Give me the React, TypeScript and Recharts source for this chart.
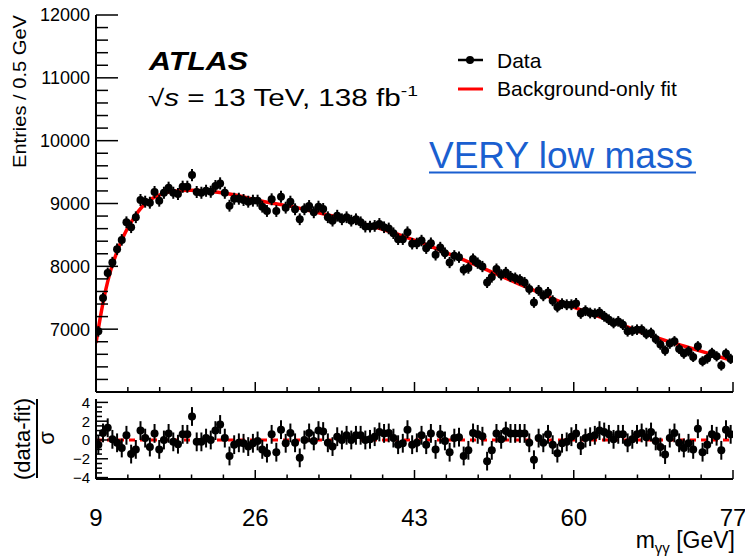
import React from 'react';
import { ComposedChart, Scatter, Line, XAxis, YAxis, ErrorBar, ReferenceLine } from 'recharts';

// binning of the diphoton mass spectrum
const BIN_LOW = 9;
const BIN_WIDTH = 0.5;

// entries per 0.5 GeV bin
const ENTRIES = [
  6965, 7495, 7892, 8061, 8273, 8421, 8702, 8622, 8781, 9056,
  9029, 9013, 9183, 9045, 9171, 9251, 9171, 9151, 9267, 9267,
  9452, 9183, 9171, 9203, 9187, 9278, 9320, 9171, 8965, 9076,
  9076, 9056, 9029, 9045, 9045, 8950, 8881, 9067, 8881, 9108,
  8934, 9029, 8908, 8749, 8908, 8960, 8860, 8950, 8913, 8781,
  8727, 8806, 8749, 8781, 8727, 8749, 8701, 8632, 8632, 8643,
  8675, 8622, 8603, 8527, 8432, 8432, 8543, 8360, 8365, 8410,
  8289, 8368, 8183, 8299, 8210, 8061, 8167, 8146, 7945, 7972,
  8115, 8051, 7997, 7743, 7829, 7956, 7865, 7902, 7838, 7813,
  7786, 7743, 7638, 7426, 7616, 7532, 7584, 7453, 7353, 7405,
  7389, 7389, 7410, 7250, 7294, 7257, 7246, 7267, 7204, 7151,
  7098, 7124, 7071, 6965, 6976, 6992, 6992, 6924, 6940, 6845,
  6754, 6659, 6770, 6807, 6686, 6611, 6648, 6559, 6727, 6489,
  6532, 6622, 6568, 6421, 6611, 6527,
];

// (data-fit)/sigma per bin
const PULLS = [
  -0.5, 0.75, 1.3, 0.07, -0.3, -0.85, 0.5, -1.5, -1.0, 1.0,
  0.2, -0.75, 0.7, -1.0, 0, 0.7, -0.2, -0.45, 0.6, 0.6,
  2.5, -0.2, -0.2, 0.2, 0, 1.0, 1.65, 0.2, -1.7, -0.5,
  -0.3, -0.35, -0.7, -0.35, -0.1, -1.0, -1.4, 0.6, -1.3, 1.1,
  -0.35, 0.75, -0.3, -1.9, 0, 0.75, -0.1, 1.0, 0.9, -0.3,
  -0.7, 0.35, 0, 0.5, 0, 0.5, 0.5, 0, 0.07, 0.35,
  0.85, 0.7, 0.75, 0.2, -0.5, -0.35, 1.1, -0.5, -0.3, 0.5,
  -0.5, 0.7, -1.0, 0.6, -0.1, -1.3, 0.2, 0.3, -1.7, -1.1,
  0.75, 0.6, 0.4, -2.25, -1.1, 0.7, 0.07, 0.95, 0.7, 0.7,
  0.7, 0.7, -0.3, -2.1, 0.2, -0.3, 0.6, -0.5, -1.4, -0.35,
  -0.2, 0.35, 0.7, -0.6, 0.2, 0.35, 0.5, 1.0, 0.85, 0.6,
  0.07, 0.6, 0.6, -0.3, 0.07, 0.6, 0.75, 0.3, 0.85, -0.1,
  -0.75, -1.55, 0.2, 0.75, -0.3, -0.85, -0.35, -1.0, 1.2, -1.3,
  -0.5, 0.6, 0.4, -1.1, 1.1, 0.6,
];

// background-only fit, sampled along the red curve
const FIT_MASS = [9, 9.5, 10, 10.5, 11, 11.5, 12, 12.5, 13, 13.5, 14, 15, 16, 17, 18, 19, 20, 22, 24, 26,
  28, 30, 32, 34, 36, 38, 40, 42, 44, 46, 48, 50, 52, 54, 56, 58, 60, 62, 64, 66, 68, 70, 72, 74, 76, 77];
const FIT_ENTRIES = [6780, 7220, 7600, 7900, 8130, 8330, 8500, 8640, 8760, 8870, 8960, 9080, 9150, 9190, 9205, 9210, 9205, 9180, 9130, 9060,
  9000, 8950, 8880, 8810, 8740, 8660, 8570, 8470, 8360, 8240, 8120, 7990, 7860, 7730, 7600, 7470, 7350, 7240, 7130, 7020, 6910, 6810, 6720, 6630, 6540, 6500];

// axis ticks
const X_MAJOR = [9, 26, 43, 60, 77];
const Y_MAJOR = [6000, 7000, 8000, 9000, 10000, 11000, 12000];
const Y_LABELS = [7000, 8000, 9000, 10000, 11000, 12000];
const R_MAJOR = [-4, -2, 0, 2, 4];
const R_LABELS = ['−4', '−2', '0', '2', '4'];

const FONT = '"Liberation Sans", Arial, Helvetica, sans-serif';
const AXIS = { stroke: '#000', strokeWidth: 2 };

function subdivide(major: number[], n: number) {
  const out: number[] = [];
  for (let i = 0; i < major.length - 1; i++) {
    const step = (major[i + 1] - major[i]) / n;
    for (let k = 0; k < n; k++) out.push(+(major[i] + k * step).toFixed(4));
  }
  out.push(major[major.length - 1]);
  return out;
}
const isIn = (v: number, list: number[]) => list.some(m => Math.abs(m - v) < 1e-6);

const X_TICKS = subdivide(X_MAJOR, 5);
const Y_TICKS = subdivide(Y_MAJOR, 5);
const R_TICKS = subdivide(R_MAJOR, 4);

const mainData = ENTRIES.map((n, i) => ({ m: BIN_LOW + BIN_WIDTH * (i + 0.5), y: n, err: Math.sqrt(n) }));
const ratioData = PULLS.map((p, i) => ({ m: BIN_LOW + BIN_WIDTH * (i + 0.5), y: p, err: 1 }));
const fitData = FIT_MASS.map((m, i) => ({ m, y: FIT_ENTRIES[i] }));

const dot = (r: number) => (p: any) => <circle cx={p.cx} cy={p.cy} r={r} fill="#000" />;

// tick renderers: ROOT style ticks pointing into the frame
function xTick(major: number, minor: number, withLabel: boolean, up: boolean) {
  return (p: any) => {
    const v = p.payload.value;
    const big = isIn(v, X_MAJOR);
    const len = big ? major : minor;
    return (
      <g>
        <line x1={p.x} x2={p.x} y1={p.y} y2={up ? p.y - len : p.y + len} stroke="#000" strokeWidth={1.5} />
        {withLabel && big && (
          <text x={p.x} y={p.y + 47} textAnchor="middle" fontSize={24} fontFamily={FONT} fill="#000">{v}</text>
        )}
      </g>
    );
  };
}

function yTick(majors: number[], major: number, minor: number, left: boolean, label?: (v: number) => string | null, fs = 18) {
  return (p: any) => {
    const v = p.payload.value;
    const big = isIn(v, majors);
    const len = big ? major : minor;
    const txt = label ? label(v) : null;
    return (
      <g>
        <line y1={p.y} y2={p.y} x1={p.x} x2={left ? p.x + len : p.x - len} stroke="#000" strokeWidth={1.5} />
        {txt !== null && (
          <text x={p.x - 6} y={p.y} dy={fs * 0.36} textAnchor="end" fontSize={fs} fontFamily={FONT} fill="#000">{txt}</text>
        )}
      </g>
    );
  };
}

export default function App() {
  return (
    <div style={{ position: 'relative', width: 745, height: 556, background: '#fff', fontFamily: FONT }}>
      <style>{'body{margin:0}'}</style>

      {/* main panel */}
      <div style={{ position: 'absolute', left: 0, top: 0 }}>
        <ComposedChart width={745} height={400} margin={{ top: 15, right: 12, bottom: 0, left: 36 }}>
          <XAxis xAxisId="b" type="number" dataKey="m" domain={[9, 77]} allowDataOverflow ticks={X_TICKS} interval={0}
            height={8} tickSize={0} tickMargin={0} axisLine={AXIS} tickLine={false} tick={xTick(10, 5, false, true)} />
          <XAxis xAxisId="t" orientation="top" type="number" dataKey="m" domain={[9, 77]} allowDataOverflow ticks={X_TICKS} interval={0}
            height={0} tickSize={0} tickMargin={0} axisLine={AXIS} tickLine={false} tick={xTick(10, 5, false, false)} />
          <YAxis yAxisId="l" type="number" dataKey="y" domain={[6000, 12000]} allowDataOverflow ticks={Y_TICKS} interval={0}
            width={60} tickSize={0} tickMargin={0} axisLine={AXIS} tickLine={false}
            tick={yTick(Y_MAJOR, 22, 12, true, v => (isIn(v, Y_LABELS) ? String(v) : null))} />
          <YAxis yAxisId="r" orientation="right" type="number" domain={[6000, 12000]} allowDataOverflow ticks={Y_TICKS} interval={0}
            width={0} tickSize={0} tickMargin={0} axisLine={AXIS} tickLine={false} tick={yTick(Y_MAJOR, 22, 12, false)} />
          <Line xAxisId="b" yAxisId="l" data={fitData} dataKey="y" type="monotone" stroke="#ff0000" strokeWidth={3.5}
            dot={false} isAnimationActive={false} />
          <Scatter xAxisId="b" yAxisId="l" data={mainData} dataKey="y" shape={dot(4)} isAnimationActive={false}>
            <ErrorBar dataKey="err" direction="y" width={0} stroke="#000" strokeWidth={2} isAnimationActive={false} />
          </Scatter>
        </ComposedChart>
      </div>

      {/* ratio panel */}
      <div style={{ position: 'absolute', left: 0, top: 392 }}>
        <ComposedChart width={745} height={164} margin={{ top: 7, right: 12, bottom: 0, left: 36 }}>
          <XAxis xAxisId="b" type="number" dataKey="m" domain={[9, 77]} allowDataOverflow ticks={X_TICKS} interval={0}
            height={77} tickSize={0} tickMargin={0} axisLine={AXIS} tickLine={false} tick={xTick(9, 4.5, true, true)} />
          <XAxis xAxisId="t" orientation="top" type="number" dataKey="m" domain={[9, 77]} allowDataOverflow ticks={X_TICKS} interval={0}
            height={0} tickSize={0} tickMargin={0} axisLine={AXIS} tickLine={false} tick={xTick(4, 3, false, false)} />
          <YAxis yAxisId="l" type="number" dataKey="y" domain={[-4.15, 4.36]} allowDataOverflow ticks={R_TICKS} interval={0}
            width={60} tickSize={0} tickMargin={0} axisLine={AXIS} tickLine={false}
            tick={yTick(R_MAJOR, 12, 6, true, v => { const i = R_MAJOR.findIndex(m => Math.abs(m - v) < 1e-6); return i >= 0 ? R_LABELS[i] : null; }, 15)} />
          <YAxis yAxisId="r" orientation="right" type="number" domain={[-4.15, 4.36]} allowDataOverflow ticks={R_TICKS} interval={0}
            width={0} tickSize={0} tickMargin={0} axisLine={AXIS} tickLine={false} tick={yTick(R_MAJOR, 12, 6, false)} />
          <ReferenceLine xAxisId="b" yAxisId="l" y={0} stroke="#ff0000" strokeWidth={3} strokeDasharray="6 5" />
          <Scatter xAxisId="b" yAxisId="l" data={ratioData} dataKey="y" shape={dot(4)} isAnimationActive={false}>
            <ErrorBar dataKey="err" direction="y" width={0} stroke="#000" strokeWidth={2} isAnimationActive={false} />
          </Scatter>
        </ComposedChart>
      </div>

      {/* labels, legend and annotations */}
      <svg width={745} height={556} style={{ position: 'absolute', left: 0, top: 0, pointerEvents: 'none' }}
        fontFamily={FONT}>
        <text transform="translate(26,15) rotate(-90)" textAnchor="end" fontSize={18} textLength={153}
          lengthAdjust="spacingAndGlyphs">Entries / 0.5 GeV</text>

        <text transform="translate(30,439) rotate(-90)" textAnchor="middle" fontSize={22}>(data-fit)</text>
        <line x1={37} x2={37} y1={399} y2={478} stroke="#000" strokeWidth={2} />
        <text transform="translate(54,438) rotate(-90)" textAnchor="middle" fontSize={22}>σ</text>

        <text x={149} y={70} fontSize={26} fontWeight="bold" fontStyle="italic" textLength={99}
          lengthAdjust="spacingAndGlyphs">ATLAS</text>
        <text x={148} y={106} fontSize={23} textLength={270} lengthAdjust="spacingAndGlyphs">
          √<tspan fontStyle="italic">s</tspan> = 13 TeV, 138 fb<tspan dy={-10} fontSize={15}>-1</tspan>
        </text>

        <line x1={458} x2={483} y1={60} y2={60} stroke="#000" strokeWidth={2.5} />
        <circle cx={470} cy={60} r={4} fill="#000" />
        <text x={497} y={68} fontSize={21}>Data</text>
        <line x1={458} x2={483} y1={89} y2={89} stroke="#ff0000" strokeWidth={3} />
        <text x={497} y={96} fontSize={21}>Background-only fit</text>

        <text x={429} y={168} fontSize={37} fill="#1a5fd0">VERY low mass</text>
        <line x1={429} x2={696} y1={172.5} y2={172.5} stroke="#1a5fd0" strokeWidth={2} />

        <text x={735} y={548} textAnchor="end" fontSize={23}>
          m<tspan fontSize={15} dy={5}>γγ</tspan><tspan dy={-5}> [GeV]</tspan>
        </text>
      </svg>
    </div>
  );
}
